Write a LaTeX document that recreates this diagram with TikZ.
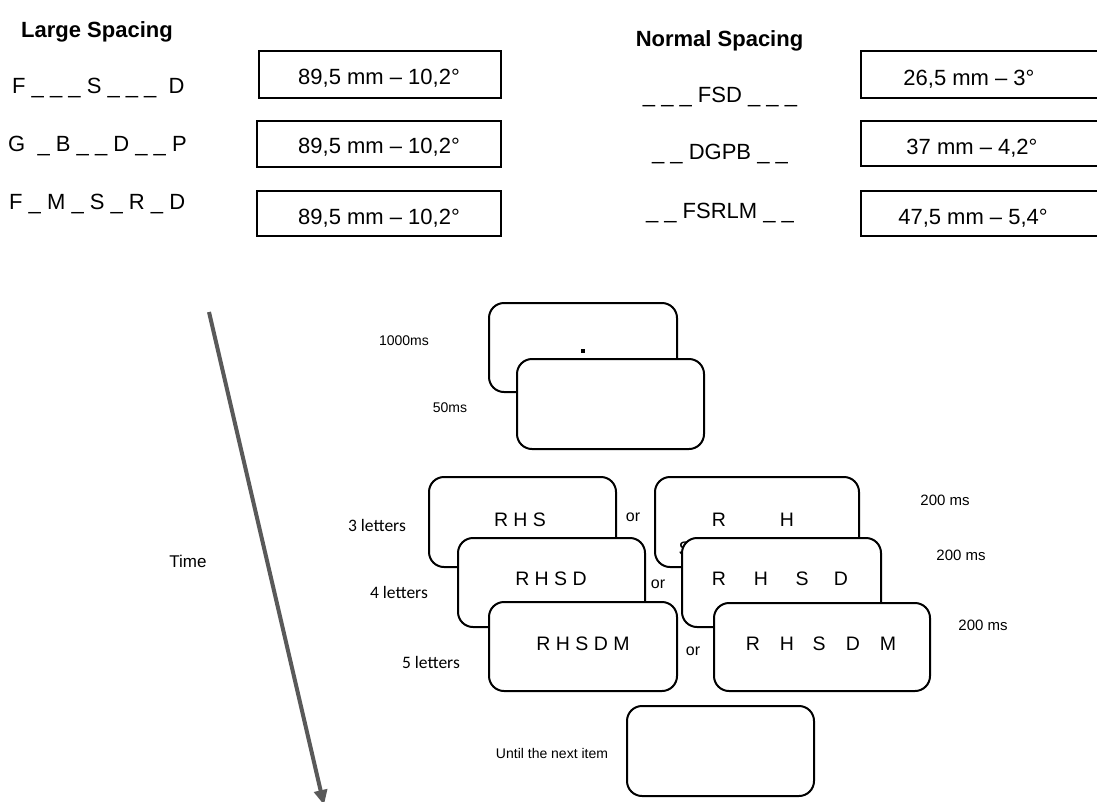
\documentclass[tikz,border=0pt]{standalone}
\usepackage{fontspec}
\setmainfont{Liberation Sans}
\newfontfamily\calib{Carlito}
\usetikzlibrary{arrows.meta}
\definecolor{arrowgray}{HTML}{595959}
\begin{document}
\begin{tikzpicture}[x=1pt,y=-1pt,
  lbl/.style={inner sep=0pt, anchor=base},
  big/.style={lbl, font=\fontsize{22}{26}\selectfont},
  bigb/.style={lbl, font=\fontsize{22}{26}\selectfont\bfseries},
  valbox/.style={draw, line width=2pt, minimum height=46pt, inner sep=0pt},
  screen/.style={draw, line width=2pt, rounded corners=15pt, fill=white, minimum height=89pt, inner sep=0pt},
  letters/.style={lbl, font=\fontsize{19.5}{23}\selectfont},
  small/.style={lbl, font=\fontsize{15}{18}\selectfont},
  tiny/.style={lbl, font=\fontsize{14}{17}\selectfont},
  cnt/.style={lbl, font=\calib\fontsize{17.5}{20}\selectfont},
]
\useasboundingbox (0,0) rectangle (1097,801);
\clip (0,0) rectangle (1097,801);

% ---------- top: Large spacing ----------
\node[bigb] (lsp) at (97,37.5) {Large Spacing};
\node[big, anchor=base west] (l1) at (12,93) {F \_ \_ \_ S \_ \_ \_~ D};
\node[big, anchor=base west] (l2) at (8,151.5) {G~ \_ B \_ \_ D \_ \_ P};
\node[big, anchor=base west] (l3) at (9,209) {F \_ M \_ S \_ R \_ D};

\node[valbox, minimum width=242pt, minimum height=47pt] (b1) at (380,74.5) {};
\node[valbox, minimum width=244pt] (b2) at (379,144) {};
\node[valbox, minimum width=244pt, minimum height=45pt] (b3) at (379,213.5) {};
\node[big] (v1) at (379,84.3) {89,5 mm – 10,2°};
\node[big] (v2) at (379,153.3) {89,5 mm – 10,2°};
\node[big] (v3) at (379,224) {89,5 mm – 10,2°};

% ---------- top: Normal spacing ----------
\node[bigb] (nsp) at (719.5,46.5) {Normal Spacing};
\node[big] (n1) at (720,102.7) {\_ \_ \_ FSD \_ \_ \_};
\node[big] (n2) at (720,159) {\_ \_ DGPB \_ \_};
\node[big] (n3) at (720,218.3) {\_ \_ FSRLM \_ \_};

\node[valbox, minimum width=250pt, minimum height=47pt, anchor=west] (b4) at (860,74.5) {};
\node[valbox, minimum width=250pt, minimum height=45pt, anchor=west] (b5) at (860,143.5) {};
\node[valbox, minimum width=250pt, minimum height=45pt, anchor=west] (b6) at (860,213.5) {};
\node[big] (v4) at (969,85) {26,5 mm – 3°};
\node[big] (v5) at (972,154) {37 mm – 4,2°};
\node[big] (v6) at (973,224) {47,5 mm – 5,4°};

% ---------- time arrow ----------
\coordinate (tstart) at (209,312);
\coordinate (tend) at (324,805);
\draw[arrowgray, line width=4pt, -{Triangle[length=15pt,width=13pt]}] (tstart) -- (tend);
\node[small, font=\fontsize{17}{20}\selectfont] (time) at (188,567) {Time};

% ---------- fixation and blank ----------
\node[tiny] (t1000) at (404,345) {1000ms};
\node[tiny] (t50) at (450,412) {50ms};
\node[screen, minimum width=188pt] (A) at (583,347.5) {};
\node[fill, minimum size=3.5pt, inner sep=0pt] (dot) at (583,351) {};
\node[screen, minimum width=187pt, minimum height=90pt] (B) at (610.5,404) {};

% ---------- left column of stimuli ----------
\node[cnt] (c3) at (377,531) {3 letters};
\node[cnt] (c4) at (399,598) {4 letters};
\node[cnt] (c5) at (431,668) {5 letters};

\node[screen, minimum width=187pt, minimum height=90pt] (C1) at (522.5,522) {};
\node[letters] (s3) at (520,526) {R H S};
\node[screen, minimum width=187pt] (C2) at (551.5,582.5) {};
\node[letters] (s4) at (551,585) {R H S D};
\node[screen, minimum width=188pt] (C3) at (583,646.5) {};
\node[letters] (s5) at (583,650) {R H S D M};

\node[small, font=\fontsize{16}{19}\selectfont] (or1) at (633,521) {or};
\node[small, font=\fontsize{16}{19}\selectfont] (or2) at (658,588) {or};
\node[small, font=\fontsize{16}{19}\selectfont] (or3) at (693,655) {or};

% ---------- right column of stimuli ----------
\node[screen, minimum width=204pt, minimum height=90pt] (D1) at (757,522) {};
\node[letters] (d1r) at (719,526.7) {R};
\node[letters] (d1h) at (787,526.7) {H};
\node[letters] (d1s) at (685,555) {S};
\node[screen, minimum width=199pt] (D2) at (781.5,582.5) {};
\node[letters] (d2r) at (719,585.7) {R};
\node[letters] (d2h) at (761,585.7) {H};
\node[letters] (d2s) at (802,585.7) {S};
\node[letters] (d2d) at (841,585.7) {D};
\node[screen, minimum width=216pt, minimum height=88pt] (D3) at (822,647) {};
\node[letters] (d3r) at (753,650.7) {R};
\node[letters] (d3h) at (787,650.7) {H};
\node[letters] (d3s) at (819,650.7) {S};
\node[letters] (d3d) at (853,650.7) {D};
\node[letters] (d3m) at (888,650.7) {M};

\node[small] (ms1) at (945,505.7) {200 ms};
\node[small] (ms2) at (961,560.7) {200 ms};
\node[small] (ms3) at (983,630) {200 ms};

% ---------- final blank ----------
\node[tiny] (until) at (552,758) {Until the next item};
\node[screen, minimum width=187pt, minimum height=90pt] (E) at (720.5,751) {};
\end{tikzpicture}
\end{document}
